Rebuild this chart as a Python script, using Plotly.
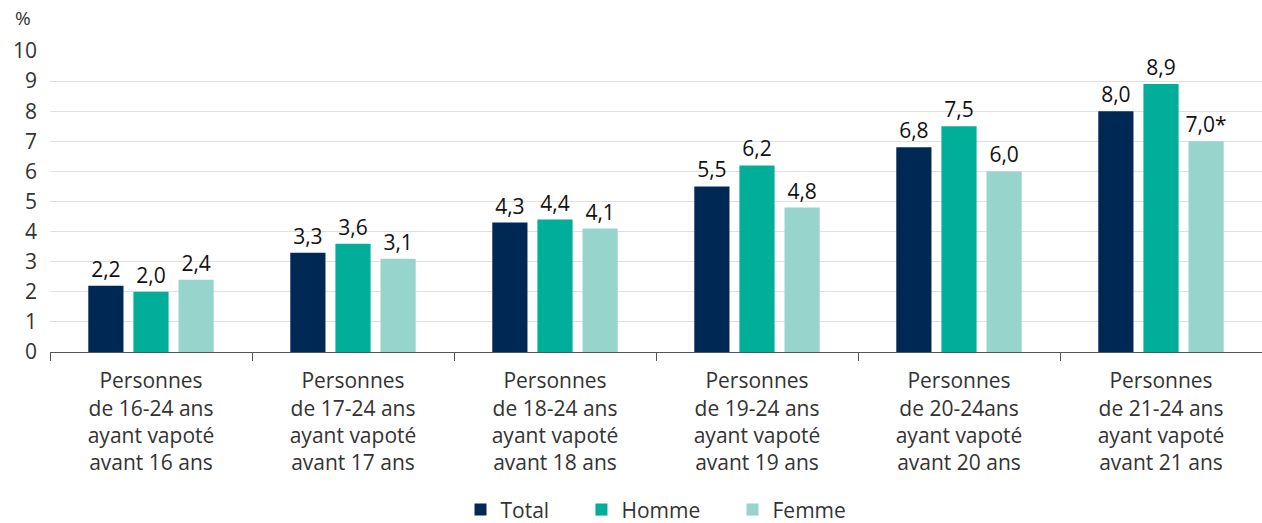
import plotly.graph_objects as go

# ── Data ───────────────────────────────────────────────────────────────────
categories = [
    "Personnes<br>de 16-24 ans<br>ayant vapoté<br>avant 16 ans",
    "Personnes<br>de 17-24 ans<br>ayant vapoté<br>avant 17 ans",
    "Personnes<br>de 18-24 ans<br>ayant vapoté<br>avant 18 ans",
    "Personnes<br>de 19-24 ans<br>ayant vapoté<br>avant 19 ans",
    "Personnes<br>de 20-24ans<br>ayant vapoté<br>avant 20 ans",
    "Personnes<br>de 21-24 ans<br>ayant vapoté<br>avant 21 ans",
]
total = [2.2, 3.3, 4.3, 5.5, 6.8, 8.0]
homme = [2.0, 3.6, 4.4, 6.2, 7.5, 8.9]
femme = [2.4, 3.1, 4.1, 4.8, 6.0, 7.0]
femme_labels = ["2,4", "3,1", "4,1", "4,8", "6,0", "7,0*"]

FONT = "Open Sans"
PAD = "\u00a0" * 5  # extra room between legend entries
series = [
    ("Total" + PAD, total, None, "#002855"),
    ("Homme" + PAD, homme, None, "#00AE9A"),
    ("Femme", femme, femme_labels, "#96D4CC"),
]


def _fmt(v):
    return f"{v:.1f}".replace(".", ",")


fig = go.Figure()
for name, vals, labels, color in series:
    fig.add_trace(
        go.Bar(
            x=categories,
            y=vals,
            name=name,
            # transparent outline only widens the gap to the value label
            marker=dict(color=color, line=dict(width=8, color="rgba(0,0,0,0)")),
            text=labels if labels else [_fmt(v) for v in vals],
            textposition="outside",
            constraintext="none",
            textfont=dict(family=FONT, size=21, color="#111111"),
            cliponaxis=False,
        )
    )

fig.update_layout(
    barmode="group",
    bargap=0.33,
    bargroupgap=0.22,
    width=1262,
    height=523,
    margin=dict(l=50, r=0, t=51, b=171),
    plot_bgcolor="white",
    paper_bgcolor="white",
    font=dict(family=FONT, size=21, color="#333333"),
    showlegend=True,
    legend=dict(
        orientation="h",
        x=0.5,
        xanchor="center",
        xref="paper",
        y=0.025,
        yanchor="middle",
        yref="container",
        font=dict(family=FONT, size=21, color="#333333"),
        itemwidth=30,
        traceorder="normal",
    ),
    xaxis=dict(
        automargin=False,
        showline=True,
        linecolor="#555555",
        linewidth=1,
        ticks="outside",
        tickson="boundaries",
        ticklen=8,
        tickcolor="#555555",
        ticklabelstandoff=10,
        tickfont=dict(family=FONT, size=21, color="#333333"),
    ),
    yaxis=dict(
        automargin=False,
        range=[0, 10],
        dtick=1,
        showgrid=True,
        gridcolor="#e0e0e0",
        gridwidth=1,
        zeroline=False,
        ticks="",
        ticklabelstandoff=12,
        tickfont=dict(family=FONT, size=21, color="#333333"),
    ),
    annotations=[
        dict(
            text="%",
            x=0,
            xref="paper",
            xanchor="left",
            xshift=-37,
            y=1,
            yref="paper",
            yshift=33,
            yanchor="middle",
            showarrow=False,
            font=dict(family=FONT, size=19, color="#333333"),
        )
    ],
)

fig.write_html(
    "out.html",
    config={"displayModeBar": False},
    post_script="document.body.style.margin='0';document.body.style.overflow='hidden';",
)
